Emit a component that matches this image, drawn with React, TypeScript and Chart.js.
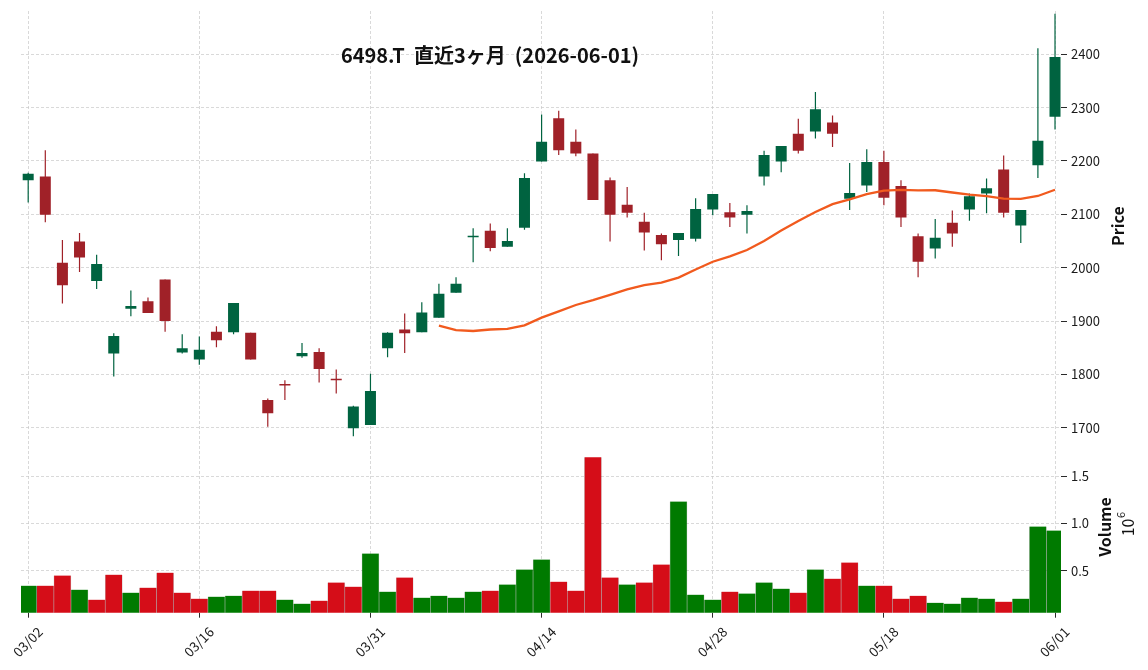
import React, { useEffect, useRef } from 'react';
import { Chart, registerables } from 'chart.js';

Chart.register(...registerables);

const TITLE = '6498.T  直近3ヶ月  (2026-06-01)';

const dates = [
  '03/02', '03/03', '03/04', '03/05', '03/06', '03/09', '03/10', '03/11', '03/12', '03/13',
  '03/16', '03/17', '03/18', '03/19', '03/23', '03/24', '03/25', '03/26', '03/27', '03/30',
  '03/31', '04/01', '04/02', '04/03', '04/06', '04/07', '04/08', '04/09', '04/10', '04/13',
  '04/14', '04/15', '04/16', '04/17', '04/20', '04/21', '04/22', '04/23', '04/24', '04/27',
  '04/28', '04/30', '05/01', '05/07', '05/08', '05/11', '05/12', '05/13', '05/14', '05/15',
  '05/18', '05/19', '05/20', '05/21', '05/22', '05/25', '05/26', '05/27', '05/28', '05/29',
  '06/01',
];

const opens = [
  2164, 2171, 2009, 2049, 1975, 1839, 1923, 1937, 1978, 1841,
  1828, 1880, 1879, 1878, 1752, 1780, 1834, 1842, 1790, 1699,
  1705, 1849, 1884, 1879, 1906, 1953, 2057, 2069, 2039, 2075,
  2199, 2280, 2236, 2214, 2164, 2118, 2086, 2061, 2052, 2054,
  2109, 2104, 2099, 2171, 2199, 2251, 2255, 2272, 2129, 2154,
  2198, 2153, 2059, 2036, 2084, 2109, 2139, 2184, 2079, 2192,
  2283,
];

const highs = [
  2178, 2220, 2052, 2065, 2024, 1877, 1957, 1944, 1978, 1875,
  1871, 1890, 1934, 1878, 1755, 1789, 1859, 1849, 1809, 1741,
  1801, 1879, 1914, 1935, 1970, 1982, 2074, 2083, 2074, 2177,
  2287, 2294, 2259, 2214, 2169, 2151, 2103, 2064, 2065, 2130,
  2138, 2121, 2117, 2219, 2228, 2279, 2329, 2285, 2196, 2222,
  2219, 2164, 2064, 2091, 2107, 2139, 2167, 2210, 2108, 2411,
  2476,
];

const lows = [
  2122, 2085, 1933, 1992, 1960, 1796, 1909, 1915, 1880, 1839,
  1818, 1851, 1875, 1828, 1702, 1752, 1831, 1785, 1764, 1684,
  1705, 1832, 1840, 1879, 1906, 1953, 2010, 2031, 2039, 2071,
  2199, 2211, 2209, 2127, 2049, 2094, 2032, 2014, 2022, 2049,
  2098, 2076, 2064, 2154, 2179, 2214, 2242, 2226, 2108, 2142,
  2117, 2076, 1982, 2017, 2039, 2088, 2102, 2094, 2046, 2168,
  2259,
];

const closes = [
  2176, 2099, 1967, 2019, 2007, 1872, 1928, 1915, 1900, 1849,
  1846, 1864, 1934, 1828, 1727, 1779, 1840, 1810, 1789, 1740,
  1769, 1878, 1877, 1916, 1951, 1970, 2059, 2037, 2050, 2168,
  2236, 2220, 2214, 2127, 2099, 2103, 2066, 2044, 2065, 2110,
  2138, 2094, 2106, 2211, 2228, 2219, 2297, 2251, 2140, 2198,
  2131, 2094, 2011, 2056, 2064, 2134, 2149, 2103, 2108, 2238,
  2395,
];

const volumes = [
  345000, 345000, 451000, 303000, 197000, 461000, 271000, 324000, 482000, 271000,
  208000, 229000, 239000, 292000, 292000, 197000, 155000, 187000, 377000, 334000,
  683000, 282000, 430000, 218000, 239000, 218000, 282000, 292000, 356000, 514000,
  620000, 387000, 292000, 1697000, 430000, 356000, 377000, 567000, 1232000, 250000,
  197000, 282000, 261000, 377000, 313000, 271000, 514000, 419000, 588000, 345000,
  345000, 208000, 239000, 165000, 155000, 218000, 208000, 176000, 208000, 968000,
  926000,
];

const priceTicks = [1700, 1800, 1900, 2000, 2100, 2200, 2300, 2400];
const volumeTicks = [500000, 1000000, 1500000];
const xTickIndices = [0, 10, 20, 30, 40, 50, 60];
const MA_WINDOW = 25;

const FONT = '"Noto Sans CJK JP", "Noto Sans", sans-serif';
const CANDLE_UP = '#006340';
const CANDLE_DOWN = '#a02128';
const VOL_UP = '#007a00';
const VOL_DOWN = '#d50d18';
const MA_COLOR = '#f15a1e';
const GRID = '#c9c9c9';
const TICK_COLOR = '#2a2a2a';

const textPlugin = {
  id: 'textPlugin',
  afterDraw(chart: any) {
    const ctx = chart.ctx;
    const yP = chart.scales.y;
    const yV = chart.scales.yVol;
    ctx.save();
    ctx.fillStyle = '#111111';
    ctx.textAlign = 'center';
    ctx.textBaseline = 'middle';
    ctx.font = `bold 20px ${FONT}`;
    ctx.fillText(TITLE, 490, 55);

    const W = chart.width;
    // Price label
    ctx.save();
    ctx.translate(W - 30, (yP.top + yP.bottom) / 2);
    ctx.rotate(-Math.PI / 2);
    ctx.font = `bold 16px ${FONT}`;
    ctx.fillText('Price', 0, 0);
    ctx.restore();

    // Volume label
    ctx.save();
    ctx.translate(W - 43, (yV.top + yV.bottom) / 2);
    ctx.rotate(-Math.PI / 2);
    ctx.font = `bold 16px ${FONT}`;
    ctx.fillText('Volume', 0, 0);
    ctx.restore();

    // 10^6 offset text
    ctx.save();
    ctx.translate(W - 21, (yV.top + yV.bottom) / 2 - 3);
    ctx.rotate(-Math.PI / 2);
    ctx.textAlign = 'left';
    ctx.font = `16px ${FONT}`;
    const baseW = ctx.measureText('10').width;
    ctx.fillText('10', -(baseW + 7) / 2, 1);
    ctx.font = `11px ${FONT}`;
    ctx.fillText('6', -(baseW + 7) / 2 + baseW + 0.5, -6);
    ctx.restore();

    ctx.restore();
  },
};

export default function App() {
  const ref = useRef<HTMLCanvasElement | null>(null);

  useEffect(() => {
    const canvas = ref.current;
    if (!canvas) return;

    const idx = dates.map((_, i) => i);
    const ma = closes.map((_, i) =>
      i < MA_WINDOW - 1
        ? null
        : closes.slice(i - MA_WINDOW + 1, i + 1).reduce((a, b) => a + b, 0) / MA_WINDOW
    );
    const candleColors = closes.map((c, i) => (c >= opens[i] ? CANDLE_UP : CANDLE_DOWN));
    const volColors = closes.map((c, i) =>
      (i === 0 ? c >= opens[i] : c >= closes[i - 1]) ? VOL_UP : VOL_DOWN
    );

    const chart = new Chart(canvas, {
      type: 'bar',
      data: {
        labels: idx,
        datasets: [
          {
            type: 'line',
            label: 'MA25',
            data: ma,
            yAxisID: 'y',
            borderColor: MA_COLOR,
            borderWidth: 2.3,
            pointRadius: 0,
            tension: 0,
            order: -1,
          } as any,
          {
            label: 'Body',
            data: opens.map((o, i) => [o, closes[i]]),
            yAxisID: 'y',
            backgroundColor: candleColors,
            barPercentage: 0.643,
            categoryPercentage: 1,
            grouped: false,
            minBarLength: 1.5,
            clip: 0,
            order: 0,
          } as any,
          {
            label: 'Wick',
            data: lows.map((l, i) => [l, highs[i]]),
            yAxisID: 'y',
            backgroundColor: candleColors,
            barThickness: 1.2,
            inflateAmount: 0,
            grouped: false,
            clip: 0,
            order: 1,
          } as any,
          {
            label: 'Volume',
            data: volumes,
            yAxisID: 'yVol',
            backgroundColor: volColors,
            borderColor: 'rgba(0,0,0,0.22)',
            borderWidth: { left: 0.6, right: 0.6, top: 0, bottom: 0 },
            borderSkipped: false,
            barPercentage: 1,
            categoryPercentage: 1,
            grouped: false,
            clip: 0,
            order: 2,
          } as any,
        ],
      },
      options: {
        animation: false,
        responsive: false,
        maintainAspectRatio: false,
        events: [],
        layout: { padding: { left: 21, top: 11, right: 0, bottom: 0 } },
        plugins: {
          legend: { display: false },
          tooltip: { enabled: false },
          title: { display: false },
        },
        scales: {
          x: {
            type: 'linear',
            position: 'bottom',
            min: -0.42,
            max: 60.35,
            offset: false,
            bounds: 'data',
            grid: {
              offset: false,
              color: GRID,
              lineWidth: 0.7,
              drawTicks: true,
              tickLength: 5,
              tickColor: TICK_COLOR,
              tickWidth: 1,
            },
            border: { display: false, dash: [3, 2] },
            afterBuildTicks: (s: any) => {
              s.ticks = xTickIndices.map((v) => ({ value: v }));
            },
            afterFit: (s: any) => {
              s.height = 57.3;
              s.paddingLeft = 0;
              s.paddingRight = 0;
            },
            ticks: {
              autoSkip: false,
              minRotation: 45,
              maxRotation: 45,
              labelOffset: 12,
              padding: 6,
              color: '#1a1a1a',
              font: { family: FONT, size: 13.5 },
              callback: (v: any) => dates[Math.round(Number(v))] ?? '',
            },
          },
          y: {
            type: 'linear',
            position: 'right',
            stack: 'panels',
            stackWeight: 430.2,
            min: 1674.8,
            max: 2481,
            bounds: 'data',
            beginAtZero: false,
            grid: {
              color: GRID,
              lineWidth: 0.7,
              drawTicks: true,
              tickLength: 6,
              tickColor: TICK_COLOR,
              tickWidth: 1,
            },
            border: { display: false, dash: [3, 2] },
            afterBuildTicks: (s: any) => {
              s.ticks = priceTicks.map((v) => ({ value: v }));
            },
            afterFit: (s: any) => {
              s.width = 87;
              s.paddingTop = 0;
              s.paddingBottom = 0;
            },
            ticks: {
              padding: 4,
              color: '#1a1a1a',
              font: { family: FONT, size: 13 },
              callback: (v: any) => String(v),
            },
          },
          yVol: {
            type: 'linear',
            axis: 'y',
            position: 'right',
            stack: 'panels',
            stackWeight: 171.5,
            min: 60000,
            max: 1867000,
            bounds: 'data',
            beginAtZero: false,
            grid: {
              color: GRID,
              lineWidth: 0.7,
              drawTicks: true,
              tickLength: 6,
              tickColor: TICK_COLOR,
              tickWidth: 1,
            },
            border: { display: false, dash: [3, 2] },
            afterBuildTicks: (s: any) => {
              s.ticks = volumeTicks.map((v) => ({ value: v }));
            },
            afterFit: (s: any) => {
              s.width = 87;
              s.paddingTop = 0;
              s.paddingBottom = 0;
            },
            ticks: {
              padding: 4,
              color: '#1a1a1a',
              font: { family: FONT, size: 13 },
              callback: (v: any) => (Number(v) / 1e6).toFixed(1),
            },
          },
        } as any,
      },
      plugins: [textPlugin],
    });

    return () => {
      chart.destroy();
    };
  }, []);

  return (
    <div
      style={{
        position: 'fixed',
        left: 0,
        top: 0,
        width: 1148,
        height: 670,
        background: '#ffffff',
      }}
    >
      <canvas
        ref={ref}
        width={1148}
        height={670}
        style={{ display: 'block', width: 1148, height: 670 }}
      />
    </div>
  );
}
